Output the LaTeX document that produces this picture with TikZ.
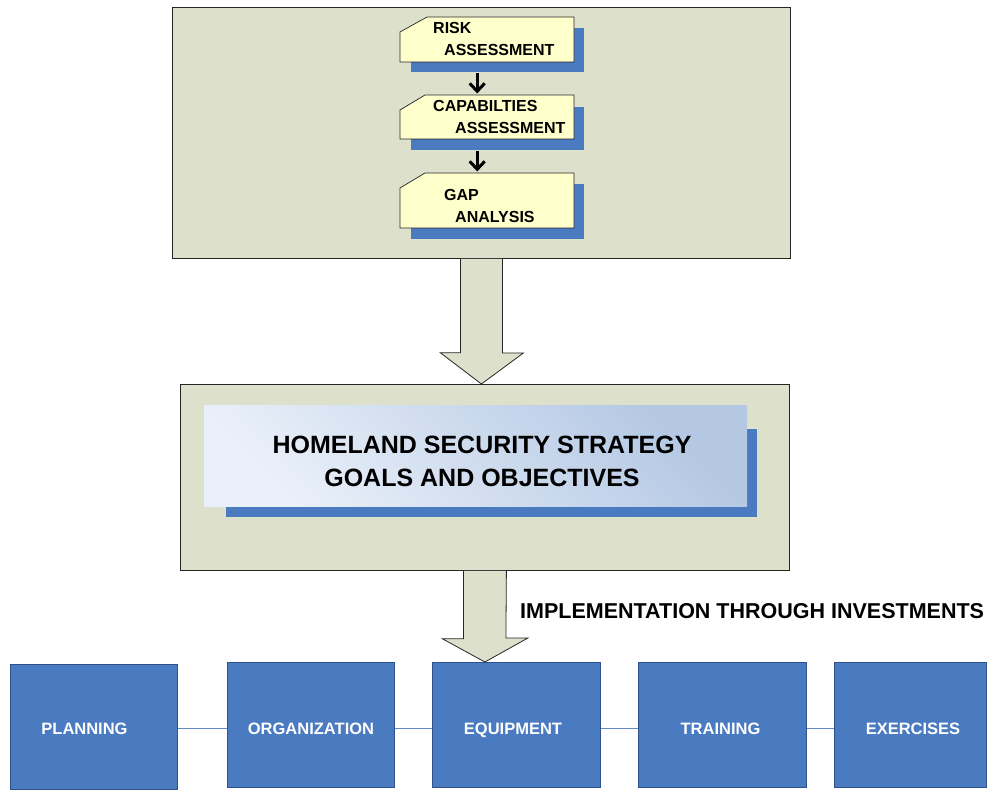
\documentclass[tikz,border=0pt]{standalone}
\usepackage{fontspec}
\setmainfont{Liberation Sans}
\usetikzlibrary{arrows.meta,calc}
\definecolor{olivebg}{RGB}{221,225,204}
\definecolor{cardy}{RGB}{255,255,204}
\definecolor{blu}{RGB}{74,122,192}
\definecolor{bluedge}{RGB}{47,82,143}
\definecolor{lnk}{RGB}{100,138,198}
\definecolor{gradA}{RGB}{234,240,249}
\definecolor{gradB}{RGB}{180,200,228}
\begin{document}
\begin{tikzpicture}[x=1pt,y=-1pt,
  panel/.style={draw=black!85,fill=olivebg,line width=0.8pt,inner sep=0pt,anchor=north west},
  cardbox/.style={inner sep=0pt,anchor=north west,minimum width=174pt},
  cardface/.style={draw=black!85,fill=cardy,line width=0.7pt},
  cardtxt/.style={anchor=base west,inner sep=0pt,font=\fontsize{16}{18}\selectfont\bfseries},
  smallarrow/.style={line width=3pt,-{Straight Barb[length=8pt,width=15pt]}},
  bigarrow/.style={draw=black!85,line width=0.8pt},
  bbox/.style={fill=blu,draw=bluedge,line width=0.8pt,inner sep=0pt,anchor=north west,minimum height=125pt},
  btxt/.style={anchor=base,inner sep=0pt,text=white,font=\fontsize{16.5}{18}\selectfont\bfseries},
  link/.style={draw=lnk,line width=1.4pt}
]
\useasboundingbox (0,0) rectangle (994,791);

% top panel
\node[panel,minimum width=618pt,minimum height=251pt] (top) at (172,7) {};

% cards: shadows
\fill[blu] (411,28) rectangle (584,72);
\fill[blu] (411,107) rectangle (584,150);
\fill[blu] (411,184) rectangle (584,239);
% card faces
\draw[cardface] (400,32) -- (427,17) -- (574,17) -- (574,62) -- (400,62) -- cycle;
\draw[cardface] (400,110) -- (425,95) -- (574,95) -- (574,139) -- (400,139) -- cycle;
\draw[cardface] (400,188) -- (425,173) -- (574,173) -- (574,228) -- (400,228) -- cycle;
\node[cardbox,minimum height=45pt] (c1) at (400,17) {};
\node[cardbox,minimum height=44pt] (c2) at (400,95) {};
\node[cardbox,minimum height=55pt] (c3) at (400,173) {};

\node[cardtxt] at (433,34) {RISK};
\node[cardtxt] at (444,56) {ASSESSMENT};
\node[cardtxt] at (433,112) {CAPABILTIES};
\node[cardtxt] at (455,134) {ASSESSMENT};
\node[cardtxt] at (444,201) {GAP};
\node[cardtxt] at (455,223) {ANALYSIS};

\draw[smallarrow,shorten <=11pt,shorten >=1.5pt] ([xshift=-10pt]c1.south) -- ([xshift=-10pt]c2.north);
\draw[smallarrow,shorten <=12pt,shorten >=1.5pt] ([xshift=-10pt]c2.south) -- ([xshift=-10pt]c3.north);

% middle panel
\node[panel,minimum width=609pt,minimum height=186pt] (mid) at (180,384) {};

% big arrow 1
\fill[olivebg] ([xshift=-21pt]top.south) -- ++(0,94) -- ++(-20,0) -- (top.south |- mid.north) -- ++(42,-31) -- ++(-21,0) -- ([xshift=21pt]top.south) -- cycle;
\draw[bigarrow] ([xshift=-21pt]top.south) -- ++(0,94) -- ++(-20,0) -- (top.south |- mid.north) -- ++(42,-31) -- ++(-21,0) -- ([xshift=21pt]top.south);

% title box
\fill[blu] (226,429) rectangle (757,517);
\shade[shading=axis,top color=gradA,bottom color=gradB,shading angle=135] (204,406) rectangle (747,507);
\node[anchor=base,align=center,inner sep=0pt,font=\fontsize{25}{33}\selectfont\bfseries] (title) at (482,487) {HOMELAND SECURITY STRATEGY\\GOALS AND OBJECTIVES};

% bottom boxes
\node[bbox,minimum width=167pt] (p) at (10,664) {};
\node[bbox,minimum width=167pt] (o) at (227,662) {};
\node[bbox,minimum width=168pt] (e) at (432,662) {};
\node[bbox,minimum width=168pt] (t) at (638,662) {};
\node[bbox,minimum width=152pt] (x) at (834,662) {};

\draw[link] ([yshift=-1.5pt]p.east) -- ([yshift=-3.5pt]o.west);
\draw[link] ([yshift=-3.5pt]o.east) -- ([yshift=-3.5pt]e.west);
\draw[link] ([yshift=-3.5pt]e.east) -- ([yshift=-3.5pt]t.west);
\draw[link] ([yshift=-3.5pt]t.east) -- ([yshift=-3.5pt]x.west);

\node[btxt] at (84.5,734) {PLANNING};
\node[btxt] at (311,734) {ORGANIZATION};
\node[btxt] at (513,734) {EQUIPMENT};
\node[btxt] at (720.5,734) {TRAINING};
\node[btxt] at (913,734) {EXERCISES};

% big arrow 2
\fill[olivebg] ([xshift=-21.5pt]mid.south) -- ++(0,68) -- ++(-21,0) -- (mid.south |- e.north) -- ++(43,-24) -- ++(-22,0) -- ([xshift=21.5pt]mid.south) -- cycle;
\draw[bigarrow] ([xshift=-21.5pt]mid.south) -- ++(0,68) -- ++(-21,0) -- (mid.south |- e.north) -- ++(43,-24) -- ++(-22,0) -- ([xshift=21.5pt]mid.south);

\node[anchor=base west,inner sep=0pt,font=\fontsize{21.5}{24}\selectfont\bfseries] (impl) at (520,618) {IMPLEMENTATION THROUGH INVESTMENTS};
\end{tikzpicture}
\end{document}
